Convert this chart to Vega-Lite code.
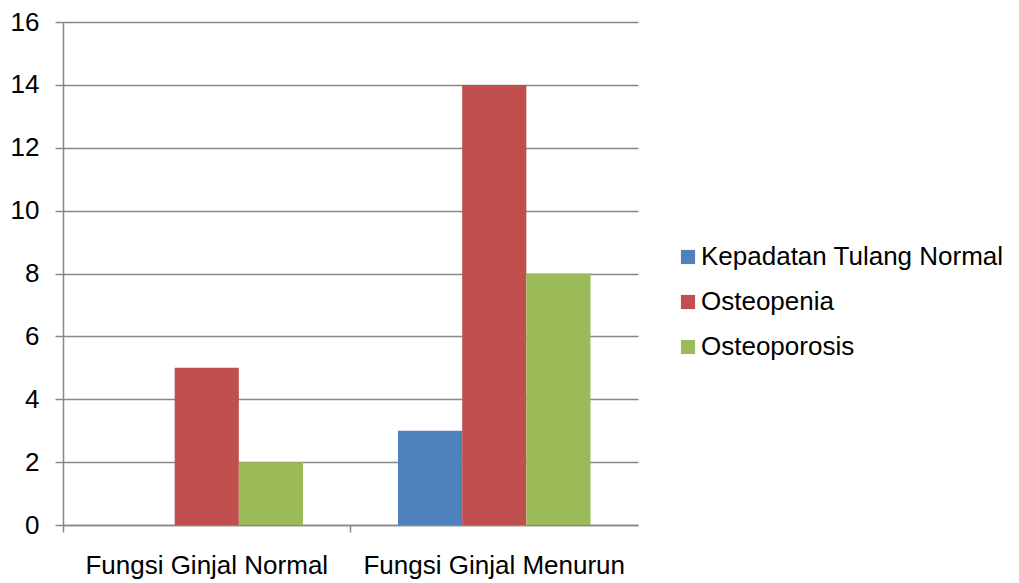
{
  "$schema": "https://vega.github.io/schema/vega-lite/v6.json",
  "autosize": "none",
  "width": 575,
  "height": 503,
  "padding": {"left": 63, "top": 22, "right": 381, "bottom": 58},
  "background": "white",
  "data": {
    "values": [
      {"group": "Fungsi Ginjal Normal", "kategori": "Kepadatan Tulang Normal", "jumlah": 0},
      {"group": "Fungsi Ginjal Normal", "kategori": "Osteopenia", "jumlah": 5},
      {"group": "Fungsi Ginjal Normal", "kategori": "Osteoporosis", "jumlah": 2},
      {"group": "Fungsi Ginjal Menurun", "kategori": "Kepadatan Tulang Normal", "jumlah": 3},
      {"group": "Fungsi Ginjal Menurun", "kategori": "Osteopenia", "jumlah": 14},
      {"group": "Fungsi Ginjal Menurun", "kategori": "Osteoporosis", "jumlah": 8}
    ]
  },
  "mark": {"type": "bar"},
  "encoding": {
    "x": {
      "field": "group",
      "type": "nominal",
      "sort": ["Fungsi Ginjal Normal", "Fungsi Ginjal Menurun"],
      "scale": {"paddingInner": 0, "paddingOuter": 0},
      "axis": {
        "title": null,
        "labelAngle": 0,
        "labelFont": "Liberation Sans",
        "labelFontSize": 26,
        "labelColor": "#000000",
        "labelPadding": 20,
        "labelLimit": 0,
        "domainColor": "#888888",
        "domainWidth": 1.5,
        "tickColor": "#888888",
        "tickWidth": 1.5,
        "tickSize": 7,
        "bandPosition": 0,
        "grid": false
      }
    },
    "xOffset": {
      "field": "kategori",
      "type": "nominal",
      "sort": ["Kepadatan Tulang Normal", "Osteopenia", "Osteoporosis"],
      "scale": {"paddingInner": 0, "paddingOuter": 0.74}
    },
    "y": {
      "field": "jumlah",
      "type": "quantitative",
      "scale": {"domain": [0, 16], "nice": false},
      "axis": {
        "title": null,
        "values": [0, 2, 4, 6, 8, 10, 12, 14, 16],
        "labelFont": "Liberation Sans",
        "labelFontSize": 26,
        "labelColor": "#000000",
        "labelPadding": 16,
        "domainColor": "#888888",
        "domainWidth": 1.5,
        "tickColor": "#888888",
        "tickWidth": 1.5,
        "tickSize": 8,
        "gridColor": "#888888",
        "gridWidth": 1.5
      }
    },
    "color": {
      "field": "kategori",
      "type": "nominal",
      "sort": ["Kepadatan Tulang Normal", "Osteopenia", "Osteoporosis"],
      "scale": {
        "domain": ["Kepadatan Tulang Normal", "Osteopenia", "Osteoporosis"],
        "range": ["#4F81BD", "#C0504D", "#9BBB59"]
      },
      "legend": {
        "title": null,
        "orient": "none",
        "legendX": 612,
        "legendY": 222,
        "symbolType": "square",
        "symbolSize": 200,
        "symbolStrokeWidth": 0,
        "labelFont": "Liberation Sans",
        "labelFontSize": 26,
        "labelColor": "#000000",
        "labelOffset": 0,
        "rowPadding": 19,
        "labelLimit": 400
      }
    }
  },
  "config": {"view": {"stroke": null}}
}
